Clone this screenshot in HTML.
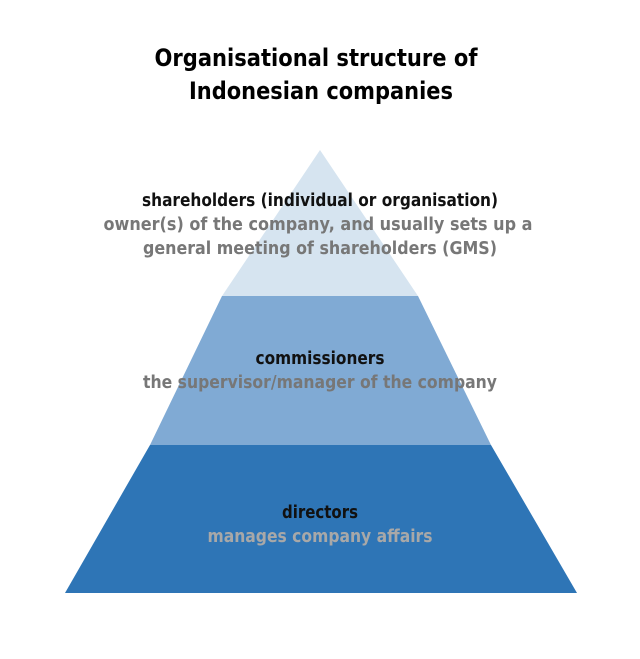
<!DOCTYPE html>
<html><head><meta charset="utf-8"><style>
html,body{margin:0;padding:0;background:#fff;}
svg{display:block;}
text{font-family:"DejaVu Sans","Liberation Sans",sans-serif;font-weight:bold;}
</style></head><body>
<svg width="640" height="659" viewBox="0 0 640 659" xmlns="http://www.w3.org/2000/svg">
<rect width="640" height="659" fill="#fff"/>
<text x="316" y="66" font-size="24" fill="#000" text-anchor="middle" textLength="323" lengthAdjust="spacingAndGlyphs">Organisational structure of</text>
<text x="321" y="99" font-size="24" fill="#000" text-anchor="middle" textLength="264" lengthAdjust="spacingAndGlyphs">Indonesian companies</text>
<polygon points="320,150 222,296 418,296" fill="#d6e4f0"/>
<polygon points="222,296 418,296 491,445 150,445" fill="#80aad4"/>
<polygon points="150,445 491,445 577,593 65,593" fill="#2e75b6"/>
<g font-size="18" text-anchor="middle">
<text x="320" y="206" fill="#111" textLength="356" lengthAdjust="spacingAndGlyphs">shareholders (individual or organisation)</text>
<text x="318" y="230" fill="#777" textLength="429" lengthAdjust="spacingAndGlyphs">owner(s) of the company, and usually sets up a</text>
<text x="320" y="254" fill="#777" textLength="354" lengthAdjust="spacingAndGlyphs">general meeting of shareholders (GMS)</text>
<text x="320" y="364" fill="#111" textLength="129" lengthAdjust="spacingAndGlyphs">commissioners</text>
<text x="320" y="388" fill="#777" textLength="354" lengthAdjust="spacingAndGlyphs">the supervisor/manager of the company</text>
<text x="320" y="518" fill="#111" textLength="76" lengthAdjust="spacingAndGlyphs">directors</text>
<text x="320" y="542" fill="#a8a8a8" textLength="225" lengthAdjust="spacingAndGlyphs">manages company affairs</text>
</g>
</svg>
</body></html>
